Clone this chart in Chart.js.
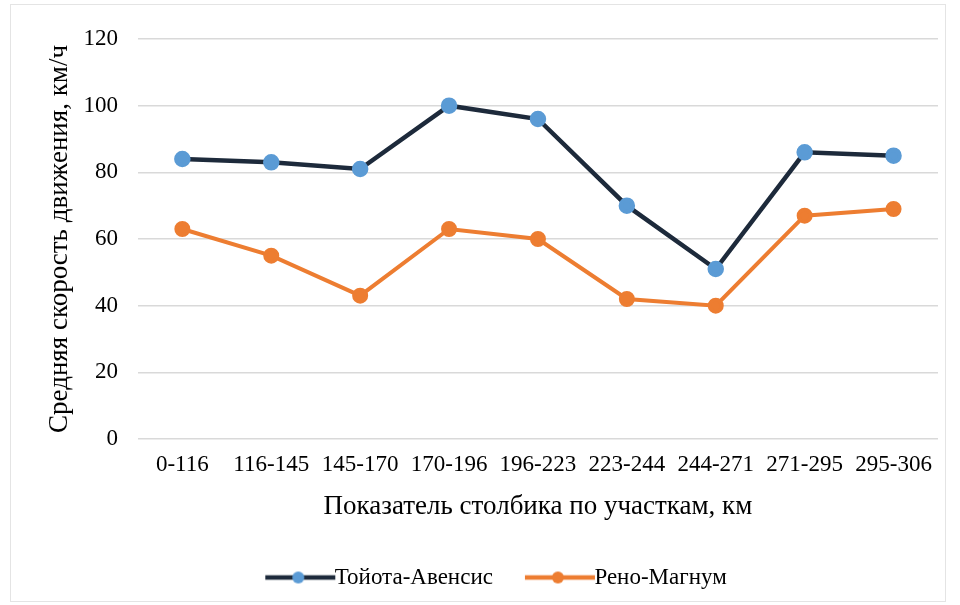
<!DOCTYPE html>
<html>
<head>
<meta charset="utf-8">
<script src="https://cdn.jsdelivr.net/npm/chart.js@4"></script>
<style>
  html, body { margin: 0; padding: 0; background: #fff; }
  #wrap { position: absolute; left: 10px; top: 4px; width: 936px; height: 598px; border: 1px solid #e4e4e4; box-sizing: border-box; }
  #chartBox { position: absolute; left: 0; top: 0; width: 960px; height: 605px; }
</style>
</head>
<body>
<div id="wrap"></div>
<div id="chartBox"><canvas id="speedChart" width="960" height="605"></canvas></div>
<script>
// Sections along the route (km markers)
const sections = ['0-116', '116-145', '145-170', '170-196', '196-223', '223-244', '244-271', '271-295', '295-306'];
// Average speed, km/h
const toyotaSpeed = [84, 83, 81, 100, 96, 70, 51, 86, 85];
const renaultSpeed = [63, 55, 43, 63, 60, 42, 40, 67, 69];
const yTicks = [0, 20, 40, 60, 80, 100, 120];

const serif = '"Liberation Serif", "Times New Roman", serif';

// legend marker: short line with a dot in the middle, like in Excel
// (transparent strip on the left gives the gap between legend items)
function legendIcon(lineColor, dotColor) {
  const c = document.createElement('canvas');
  c.width = 98; c.height = 14;
  const g = c.getContext('2d');
  g.strokeStyle = lineColor;
  g.lineWidth = 4.5;
  g.beginPath(); g.moveTo(27, 7); g.lineTo(97, 7); g.stroke();
  g.fillStyle = dotColor;
  g.beginPath(); g.arc(60, 7, 6, 0, Math.PI * 2); g.fill();
  return c;
}

const ctx = document.getElementById('speedChart').getContext('2d');
new Chart(ctx, {
  type: 'line',
  data: {
    labels: sections,
    datasets: [
      {
        label: 'Тойота-Авенсис',
        data: toyotaSpeed,
        borderColor: '#1d2a3b',
        borderWidth: 4.5,
        pointBackgroundColor: '#5b9bd5',
        pointBorderColor: '#5b9bd5',
        pointRadius: 6,
        pointStyle: 'circle',
        tension: 0
      },
      {
        label: 'Рено-Магнум',
        data: renaultSpeed,
        borderColor: '#ed7d31',
        borderWidth: 4,
        pointBackgroundColor: '#ed7d31',
        pointBorderColor: '#ed7d31',
        pointRadius: 6,
        pointStyle: 'circle',
        tension: 0
      }
    ]
  },
  options: {
    responsive: false,
    animation: false,
    layout: { padding: { left: 40, right: 22, top: 39, bottom: 6 } },
    plugins: {
      legend: {
        position: 'bottom',
        labels: {
          usePointStyle: true,
          pointStyleWidth: 72,
          color: '#000',
          font: { family: serif, size: 23 },
          padding: 18,
          generateLabels(chart) {
            return [
              { text: 'Тойота-Авенсис', pointStyle: legendIcon('#1d2a3b', '#5b9bd5'), datasetIndex: 0, fontColor: '#000', lineWidth: 0, strokeStyle: 'transparent', fillStyle: 'transparent' },
              { text: 'Рено-Магнум', pointStyle: legendIcon('#ed7d31', '#ed7d31'), datasetIndex: 1, fontColor: '#000', lineWidth: 0, strokeStyle: 'transparent', fillStyle: 'transparent' }
            ];
          }
        }
      },
      tooltip: { enabled: false }
    },
    scales: {
      x: {
        offset: true,
        grid: { display: false, drawTicks: false },
        border: { display: false },
        ticks: { color: '#000', font: { family: serif, size: 23 }, padding: 12, maxRotation: 0, autoSkip: false },
        title: { display: true, text: 'Показатель столбика по участкам, км', color: '#000', font: { family: serif, size: 27 }, padding: { top: 0, bottom: 25 } }
      },
      y: {
        min: 0,
        max: 120,
        afterBuildTicks(axis) { axis.ticks = yTicks.map(v => ({ value: v })); },
        grid: { color: '#d9d9d9', lineWidth: 1.5, drawTicks: false },
        border: { display: false },
        ticks: { color: '#000', font: { family: serif, size: 23 }, padding: 20 },
        title: { display: true, text: 'Средняя скорость движения, км/ч', color: '#000', font: { family: serif, size: 27 }, padding: { top: 4, bottom: -13 } }
      }
    }
  }
});
</script>
</body>
</html>
